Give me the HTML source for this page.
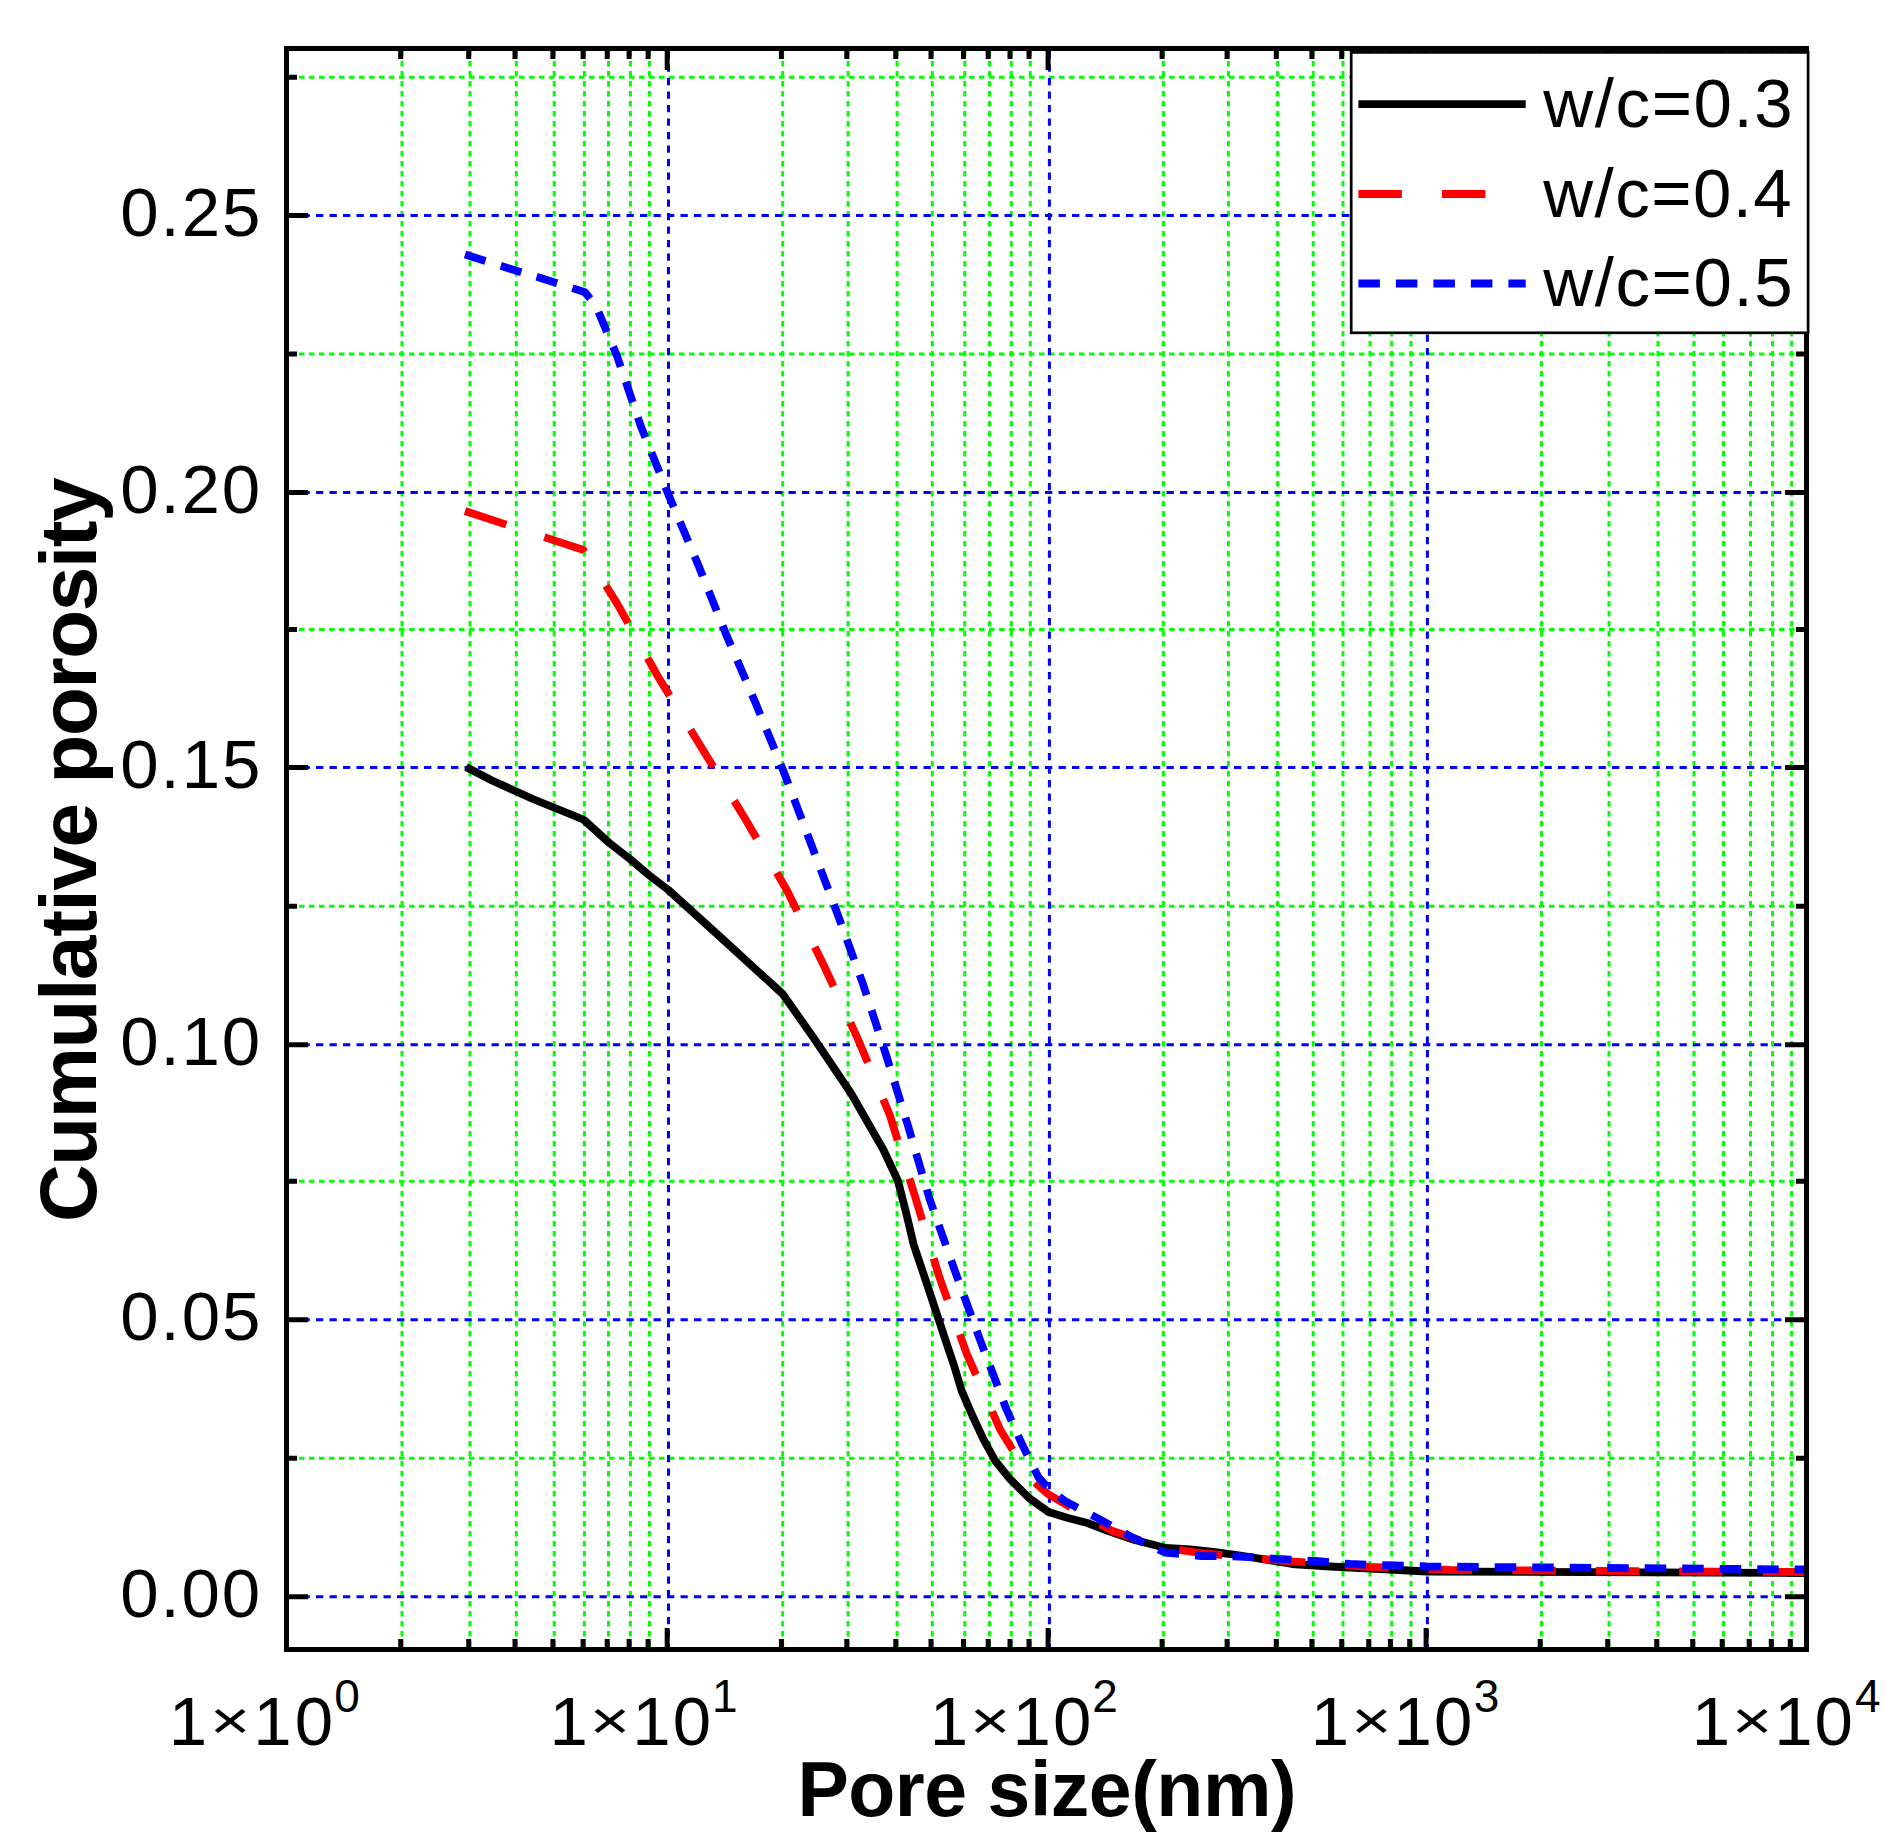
<!DOCTYPE html><html><head><meta charset="utf-8"><title>Cumulative porosity vs pore size</title>
<style>html,body{margin:0;padding:0;background:#fff;}svg{display:block;}text{font-family:"Liberation Sans",sans-serif;fill:#000;}</style></head><body>
<svg width="1903" height="1846" viewBox="0 0 1903 1846">
<rect x="0" y="0" width="1903" height="1846" fill="#fff"/>
<path d="M402.0 51.0V1647.0M470.0 51.0V1647.0M516.3 51.0V1647.0M554.2 51.0V1647.0M584.4 51.0V1647.0M608.5 51.0V1647.0M630.4 51.0V1647.0M649.4 51.0V1647.0M782.7 51.0V1647.0M848.1 51.0V1647.0M897.1 51.0V1647.0M932.3 51.0V1647.0M964.8 51.0V1647.0M989.5 51.0V1647.0M1011.3 51.0V1647.0M1030.3 51.0V1647.0M1163.4 51.0V1647.0M1228.4 51.0V1647.0M1277.6 51.0V1647.0M1313.2 51.0V1647.0M1343.0 51.0V1647.0M1370.0 51.0V1647.0M1391.7 51.0V1647.0M1411.0 51.0V1647.0M1541.5 51.0V1647.0M1609.0 51.0V1647.0M1658.0 51.0V1647.0M1694.0 51.0V1647.0M1723.5 51.0V1647.0M1750.5 51.0V1647.0M1772.6 51.0V1647.0M1791.6 51.0V1647.0M289.0 1458.2H1804.0M289.0 1181.2H1804.0M289.0 906.3H1804.0M289.0 629.5H1804.0M289.0 354.0H1804.0M289.0 77.2H1804.0" stroke="#00ff00" stroke-width="3.0" stroke-dasharray="5.5 4.5" fill="none"/>
<path d="M668.5 51.0V1647.0M1049.4 51.0V1647.0M1427.4 51.0V1647.0M289.0 1596.7H1804.0M289.0 1319.8H1804.0M289.0 1044.7H1804.0M289.0 767.6H1804.0M289.0 492.6H1804.0M289.0 215.5H1804.0" stroke="#0000ff" stroke-width="3.0" stroke-dasharray="7.3 6.2" fill="none"/>
<polyline points="466.0,767.0 492.0,780.5 534.0,799.5 576.0,816.5 584.0,820.0 608.8,842.5 629.9,859.0 649.4,875.5 668.4,890.0 722.5,939.0 782.7,994.0 813.0,1037.0 851.0,1093.3 883.5,1150.0 898.0,1181.0 906.3,1213.5 913.6,1244.4 921.8,1268.8 929.9,1293.1 938.0,1317.5 946.1,1341.9 954.3,1366.3 961.6,1390.6 972.1,1415.0 983.5,1439.4 995.0,1460.5 1009.5,1478.5 1029.0,1498.0 1048.5,1512.0 1068.0,1518.0 1087.5,1523.0 1107.0,1530.5 1134.6,1540.0 1166.0,1548.0 1190.0,1549.5 1213.4,1552.0 1237.0,1555.0 1261.0,1558.8 1292.0,1564.0 1330.0,1566.5 1380.0,1569.0 1427.0,1571.5 1806.0,1573.0" fill="none" stroke="#000" stroke-width="7.8" stroke-linejoin="round"/>
<polyline points="465.0,511.0 583.5,550.0 617.0,603.4 657.9,676.5 701.3,747.2 744.7,818.0 786.8,890.0 824.8,967.5 858.0,1039.2 890.0,1115.6 914.8,1195.7 938.9,1275.7 954.0,1318.1" fill="none" stroke="#ff0000" stroke-width="7.8" stroke-dasharray="43.5 40" stroke-dashoffset="0.00" stroke-linejoin="round"/>
<polyline points="954.0,1318.1 966.5,1353.3 1000.2,1429.7 1030.0,1478.0 1048.0,1494.0 1075.0,1510.0" fill="none" stroke="#ff0000" stroke-width="7.8" stroke-dasharray="43.5 40" stroke-dashoffset="984.53" stroke-linejoin="round"/>
<polyline points="1075.0,1510.0 1112.0,1530.8 1160.0,1547.0 1200.0,1553.0 1283.6,1560.8 1370.0,1567.0 1450.0,1570.0 1806.0,1572.0" fill="none" stroke="#ff0000" stroke-width="7.8" stroke-dasharray="43.5 40" stroke-dashoffset="1223.61" stroke-linejoin="round"/>
<polyline points="465.0,254.5 510.7,269.0 547.7,280.2 585.0,292.2 596.0,306.0 617.1,356.2 641.1,426.9 668.8,495.5 698.4,565.3 726.2,634.6 755.9,703.8 784.2,773.0 810.3,842.0 837.1,912.8 862.8,983.5 886.0,1054.7 907.9,1125.4 929.4,1198.5 954.3,1269.2 979.9,1339.5 1006.3,1409.0 1021.7,1443.5 1038.4,1477.2 1050.0,1490.0 1065.2,1501.2 1098.4,1518.6 1131.0,1536.7 1165.0,1552.5 1201.2,1556.0 1239.0,1556.5 1276.0,1558.8 1316.0,1561.0 1350.0,1564.0 1427.0,1566.5 1806.0,1569.5" fill="none" stroke="#0000ff" stroke-width="7.8" stroke-dasharray="21.5 16" stroke-linejoin="round"/>
<path d="M400.7 1647.0v-8M400.7 51.0v8M468.7 1647.0v-8M468.7 51.0v8M515.0 1647.0v-8M515.0 51.0v8M552.9 1647.0v-8M552.9 51.0v8M583.1 1647.0v-8M583.1 51.0v8M607.2 1647.0v-8M607.2 51.0v8M629.1 1647.0v-8M629.1 51.0v8M648.1 1647.0v-8M648.1 51.0v8M667.2 1647.0v-19M667.2 51.0v19M781.4 1647.0v-8M781.4 51.0v8M846.8 1647.0v-8M846.8 51.0v8M895.8 1647.0v-8M895.8 51.0v8M931.0 1647.0v-8M931.0 51.0v8M963.5 1647.0v-8M963.5 51.0v8M988.2 1647.0v-8M988.2 51.0v8M1010.0 1647.0v-8M1010.0 51.0v8M1029.0 1647.0v-8M1029.0 51.0v8M1048.1 1647.0v-19M1048.1 51.0v19M1162.1 1647.0v-8M1162.1 51.0v8M1227.1 1647.0v-8M1227.1 51.0v8M1276.3 1647.0v-8M1276.3 51.0v8M1311.9 1647.0v-8M1311.9 51.0v8M1341.7 1647.0v-8M1341.7 51.0v8M1368.7 1647.0v-8M1368.7 51.0v8M1390.4 1647.0v-8M1390.4 51.0v8M1409.7 1647.0v-8M1409.7 51.0v8M1426.1 1647.0v-19M1426.1 51.0v19M1540.2 1647.0v-8M1540.2 51.0v8M1607.7 1647.0v-8M1607.7 51.0v8M1656.7 1647.0v-8M1656.7 51.0v8M1692.7 1647.0v-8M1692.7 51.0v8M1722.2 1647.0v-8M1722.2 51.0v8M1749.2 1647.0v-8M1749.2 51.0v8M1771.3 1647.0v-8M1771.3 51.0v8M1790.3 1647.0v-8M1790.3 51.0v8M289.0 1596.7h19M1804.0 1596.7h-19M289.0 1458.2h8M1804.0 1458.2h-8M289.0 1319.8h19M1804.0 1319.8h-19M289.0 1181.2h8M1804.0 1181.2h-8M289.0 1044.7h19M1804.0 1044.7h-19M289.0 906.3h8M1804.0 906.3h-8M289.0 767.6h19M1804.0 767.6h-19M289.0 629.5h8M1804.0 629.5h-8M289.0 492.6h19M1804.0 492.6h-19M289.0 354.0h8M1804.0 354.0h-8M289.0 215.5h19M1804.0 215.5h-19M289.0 77.2h8M1804.0 77.2h-8" stroke="#000" stroke-width="5" fill="none"/>
<rect x="286.5" y="48.5" width="1520.0" height="1601.0" fill="none" stroke="#000" stroke-width="5"/>
<rect x="1351.2" y="52.4" width="456.9" height="280.4" fill="#fff" stroke="#000" stroke-width="2.7"/>
<path d="M1358.4 104.2H1525.7" stroke="#000" stroke-width="7.8"/>
<path d="M1358.4 194H1522.7" stroke="#ff0000" stroke-width="7.8" stroke-dasharray="43.5 40"/>
<path d="M1358.4 283.5H1525.7" stroke="#0000ff" stroke-width="7.8" stroke-dasharray="21.5 16"/>
<text x="1543.3" y="127.0" font-size="69" letter-spacing="1.62">w/c=0.3</text>
<text x="1543.3" y="216.8" font-size="69" letter-spacing="1.45">w/c=0.4</text>
<text x="1543.3" y="306.4" font-size="69" letter-spacing="1.60">w/c=0.5</text>
<text x="120.3" y="1616.7" font-size="69" letter-spacing="1.83">0.00</text>
<text x="120.3" y="1339.8" font-size="69" letter-spacing="1.90">0.05</text>
<text x="120.3" y="1064.7" font-size="69" letter-spacing="1.83">0.10</text>
<text x="120.3" y="787.6" font-size="69" letter-spacing="1.90">0.15</text>
<text x="120.3" y="512.6" font-size="69" letter-spacing="1.83">0.20</text>
<text x="120.3" y="235.5" font-size="69" letter-spacing="1.90">0.25</text>
<text x="168.7" y="1744.5" font-size="69">1</text>
<text x="210.0" y="1744.5" font-size="69" transform="translate(0 1721.52) scale(1 0.78) translate(0 -1721.52)">×</text>
<text x="253.3" y="1744.5" font-size="69" letter-spacing="2.97">10</text>
<text x="334.2" y="1712.3" font-size="46">0</text>
<text x="549.4" y="1744.5" font-size="69">1</text>
<text x="589.8" y="1744.5" font-size="69" transform="translate(0 1721.52) scale(1 0.78) translate(0 -1721.52)">×</text>
<text x="632.2" y="1744.5" font-size="69" letter-spacing="2.07">10</text>
<text x="712.1" y="1712.3" font-size="46">1</text>
<text x="929.7" y="1744.5" font-size="69">1</text>
<text x="970.1" y="1744.5" font-size="69" transform="translate(0 1721.52) scale(1 0.78) translate(0 -1721.52)">×</text>
<text x="1012.5" y="1744.5" font-size="69" letter-spacing="2.10">10</text>
<text x="1092.2" y="1712.3" font-size="46">2</text>
<text x="1310.8" y="1744.5" font-size="69">1</text>
<text x="1351.2" y="1744.5" font-size="69" transform="translate(0 1721.52) scale(1 0.78) translate(0 -1721.52)">×</text>
<text x="1393.6" y="1744.5" font-size="69" letter-spacing="2.07">10</text>
<text x="1473.7" y="1712.3" font-size="46">3</text>
<text x="1691.8" y="1744.5" font-size="69">1</text>
<text x="1732.1" y="1744.5" font-size="69" transform="translate(0 1721.52) scale(1 0.78) translate(0 -1721.52)">×</text>
<text x="1774.3" y="1744.5" font-size="69" letter-spacing="1.94">10</text>
<text x="1854.9" y="1712.3" font-size="46">4</text>
<text x="797.4" y="1815.6" font-size="77" font-weight="bold" letter-spacing="-0.48">Pore size(nm)</text>
<text transform="translate(96.3 1222.1) rotate(-90)" x="0" y="0" font-size="80" font-weight="bold" letter-spacing="-1.35">Cumulative porosity</text>
</svg></body></html>
